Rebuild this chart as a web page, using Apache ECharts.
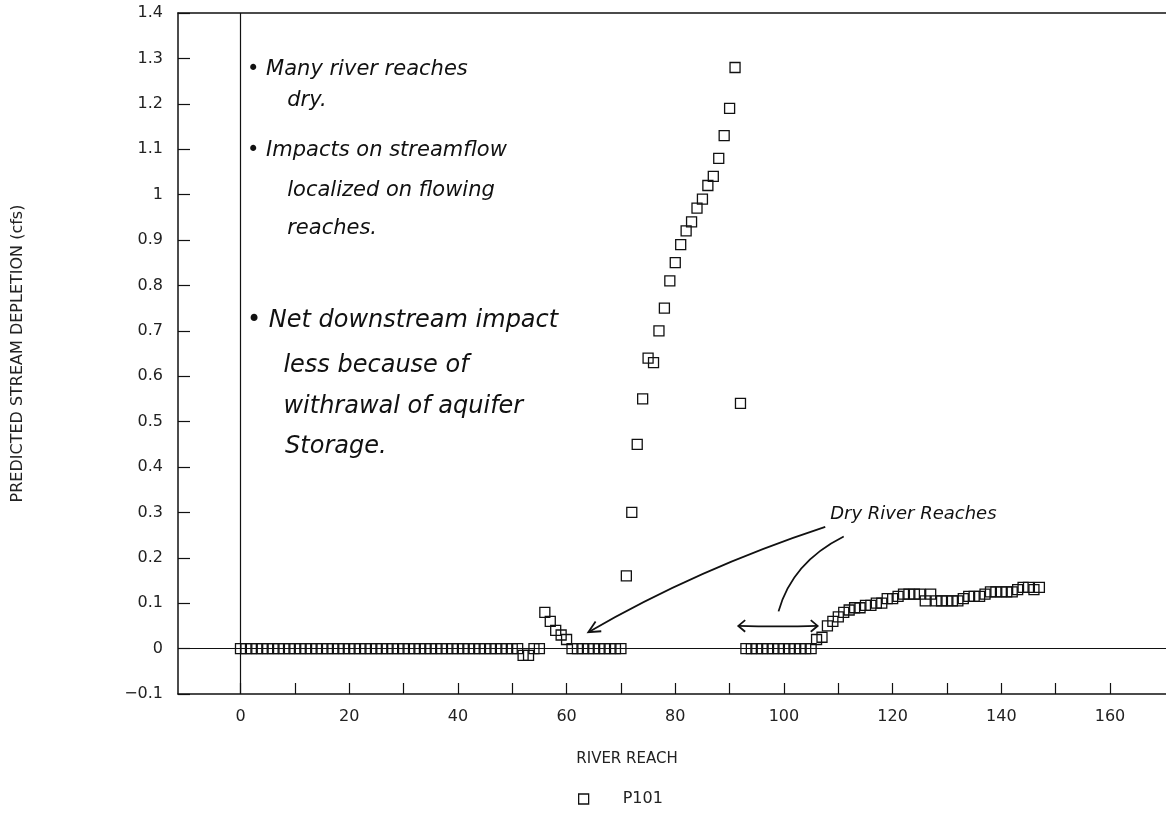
<!DOCTYPE html>
<html>
<head>
<meta charset="utf-8">
<title>Predicted Stream Depletion</title>
<script src="https://cdn.jsdelivr.net/npm/echarts@6/dist/echarts.min.js"></script>
<style>
  html, body { margin: 0; padding: 0; background: #fff; }
  #chart { width: 1166px; height: 814px; }
</style>
</head>
<body>
<div id="chart"></div>
<script>
// Predicted stream depletion (cfs) for each river reach, scenario P101.
// Reach number = position in the array.
const seriesName = 'P101';
const depletion = [
  // reaches 0-51
  0, 0, 0, 0, 0, 0, 0, 0, 0, 0,
  0, 0, 0, 0, 0, 0, 0, 0, 0, 0,
  0, 0, 0, 0, 0, 0, 0, 0, 0, 0,
  0, 0, 0, 0, 0, 0, 0, 0, 0, 0,
  0, 0, 0, 0, 0, 0, 0, 0, 0, 0,
  0, 0,
  // reaches 52-60
  -0.015, -0.015, 0, 0, 0.08, 0.06, 0.04, 0.03, 0.02,
  // reaches 61-70 (dry)
  0, 0, 0, 0, 0, 0, 0, 0, 0, 0,
  // reaches 71-92
  0.16, 0.30, 0.45, 0.55, 0.64, 0.63, 0.70, 0.75, 0.81, 0.85,
  0.89, 0.92, 0.94, 0.97, 0.99, 1.02, 1.04, 1.08, 1.13, 1.19,
  1.28, 0.54,
  // reaches 93-105 (dry)
  0, 0, 0, 0, 0, 0, 0, 0, 0, 0, 0, 0, 0,
  // reaches 106-147
  0.02, 0.025, 0.05, 0.06, 0.07, 0.08, 0.085, 0.09, 0.09, 0.095,
  0.095, 0.10, 0.10, 0.11, 0.11, 0.115, 0.12, 0.12, 0.12, 0.12,
  0.105, 0.12, 0.105, 0.105, 0.105, 0.105, 0.105, 0.11, 0.115, 0.115,
  0.115, 0.12, 0.125, 0.125, 0.125, 0.125, 0.125, 0.13, 0.135, 0.135,
  0.13, 0.135
];

const xLabelValues = [0, 20, 40, 60, 80, 100, 120, 140, 160];
const xTickValues = [0, 10, 20, 30, 40, 50, 60, 70, 80, 90, 100, 110, 120, 130, 140, 150, 160];

// Handwritten field notes
const noteLines = [
  '\u2022 Many river reaches',
  'dry.',
  '\u2022 Impacts on streamflow',
  'localized on flowing',
  'reaches.',
  '\u2022 Net downstream impact',
  'less because of',
  'withrawal of aquifer',
  'Storage.'
];
const noteSizes = [21, 21, 21, 21, 21, 24, 24, 24, 24];
const calloutText = 'Dry River Reaches';

const points = depletion.map((v, i) => [i, v]);

const ink = '#111';
const axisFont = '"DejaVu Sans", "Liberation Sans", sans-serif';
const handFont = '"DejaVu Sans", "Noto Sans", sans-serif';

const chart = echarts.init(document.getElementById('chart'), null, { renderer: 'canvas' });

const option = {
  animation: false,
  backgroundColor: '#fff',
  grid: { left: 178, top: 13, right: 0, bottom: 120, containLabel: false },
  legend: {
    data: [seriesName],
    left: 573,
    top: 786,
    icon: 'rect',
    itemWidth: 10,
    itemHeight: 10,
    itemStyle: { color: 'rgba(0,0,0,0)', borderColor: ink, borderWidth: 1.3 },
    textStyle: { fontFamily: axisFont, fontSize: 16, color: '#222', padding: [0, 0, 0, 29] }
  },
  xAxis: [
    {
      type: 'value',
      min: -11.5,
      max: 170.3,
      position: 'bottom',
      name: 'RIVER REACH',
      nameLocation: 'middle',
      nameGap: 58,
      nameTextStyle: { fontFamily: axisFont, fontSize: 15, color: '#222', padding: [0, 90, 0, 0] },
      axisLine: { show: true, onZero: false, lineStyle: { color: ink, width: 1.5 } },
      axisTick: { show: true, inside: true, length: 11, customValues: xTickValues, lineStyle: { color: ink, width: 1.2 } },
      axisLabel: { show: true, customValues: xLabelValues, margin: 15, fontFamily: axisFont, fontSize: 16, color: '#222' },
      splitLine: { show: false }
    },
    {
      type: 'value',
      min: -11.5,
      max: 170.3,
      position: 'top',
      axisLine: { show: true, onZero: false, lineStyle: { color: ink, width: 1.5 } },
      axisTick: { show: false },
      axisLabel: { show: false },
      splitLine: { show: false }
    }
  ],
  yAxis: {
    type: 'value',
    min: -0.1,
    max: 1.4,
    interval: 0.1,
    name: 'PREDICTED STREAM DEPLETION (cfs)',
    nameLocation: 'middle',
    nameGap: 152,
    nameTextStyle: { fontFamily: axisFont, fontSize: 16, color: '#222' },
    axisLine: { show: true, onZero: false, lineStyle: { color: ink, width: 1.5 } },
    axisTick: { show: true, inside: true, length: 12, lineStyle: { color: ink, width: 1.2 } },
    axisLabel: {
      margin: 15,
      fontFamily: axisFont,
      fontSize: 16,
      color: '#222',
      formatter: function (v) {
        const r = Math.round(v * 10) / 10;
        return r < 0 ? '\u2212' + Math.abs(r) : String(r);
      }
    },
    splitLine: { show: false }
  },
  series: [
    {
      name: seriesName,
      type: 'scatter',
      xAxisIndex: 0,
      data: points,
      symbol: 'rect',
      symbolSize: 10,
      itemStyle: { color: 'rgba(0,0,0,0)', borderColor: ink, borderWidth: 1.3, opacity: 1 },
      emphasis: { disabled: true },
      markLine: {
        silent: true,
        symbol: ['none', 'none'],
        label: { show: false },
        lineStyle: { color: ink, width: 1.2, type: 'solid' },
        data: [{ yAxis: 0 }, { xAxis: 0 }],
        z: 1
      },
      z: 3
    }
  ]
};

chart.setOption(option);

// Pen annotations: notes, callout and arrows, placed in data coordinates
function toPx(x, y) {
  return chart.convertToPixel({ xAxisIndex: 0, yAxisIndex: 0 }, [x, y]);
}

function arrowHead(tip, from, len, spread) {
  const ang = Math.atan2(from[1] - tip[1], from[0] - tip[0]);
  const a = [tip[0] + len * Math.cos(ang + spread), tip[1] + len * Math.sin(ang + spread)];
  const b = [tip[0] + len * Math.cos(ang - spread), tip[1] + len * Math.sin(ang - spread)];
  return {
    type: 'polyline',
    shape: { points: [a, tip, b] },
    style: { stroke: ink, lineWidth: 1.8, fill: null },
    silent: true
  };
}

function curve(p1, c, p2) {
  return {
    type: 'bezierCurve',
    shape: { x1: p1[0], y1: p1[1], cpx1: c[0], cpy1: c[1], x2: p2[0], y2: p2[1] },
    style: { stroke: ink, lineWidth: 1.8, fill: null },
    silent: true
  };
}

// note anchors: [reach, depletion] for the left edge / middle of each line
const noteAnchors = [
  [1.2, 1.275], [8.6, 1.208], [1.2, 1.098], [8.6, 1.010],
  [8.6, 0.926], [1.2, 0.722], [7.9, 0.622], [7.9, 0.532], [8.2, 0.444]
];

const graphics = [];
noteLines.forEach((t, i) => {
  const p = toPx(noteAnchors[i][0], noteAnchors[i][1]);
  graphics.push({
    type: 'text',
    x: p[0],
    y: p[1],
    silent: true,
    style: {
      text: t,
      fill: ink,
      font: 'italic ' + noteSizes[i] + 'px ' + handFont,
      align: 'left',
      verticalAlign: 'middle'
    }
  });
});

const callPos = toPx(108.5, 0.295);
graphics.push({
  type: 'text',
  x: callPos[0],
  y: callPos[1],
  silent: true,
  style: { text: calloutText, fill: ink, font: 'italic 18px ' + handFont, align: 'left', verticalAlign: 'middle' }
});

// long arrow to the dry reaches near 60-70
const a1Start = toPx(107.6, 0.268);
const a1Ctrl = toPx(84.0, 0.175);
const a1Tip = toPx(64.0, 0.036);
graphics.push(curve(a1Start, a1Ctrl, a1Tip));
graphics.push(arrowHead(a1Tip, a1Ctrl, 13, 0.45));

// second stroke toward the dry reaches 93-105
const a2Start = toPx(111.0, 0.247);
const a2Ctrl = toPx(101.5, 0.190);
const a2End = toPx(99.0, 0.082);
graphics.push(curve(a2Start, a2Ctrl, a2End));

// double-headed span over reaches 93-105
const s1 = toPx(91.6, 0.050);
const s2 = toPx(106.2, 0.050);
const sMid = [(s1[0] + s2[0]) / 2, s1[1] + 1];
graphics.push(curve(s1, sMid, s2));
graphics.push(arrowHead(s1, s2, 9, 0.7));
graphics.push(arrowHead(s2, s1, 9, 0.7));

chart.setOption({ graphic: graphics });
</script>
</body>
</html>
